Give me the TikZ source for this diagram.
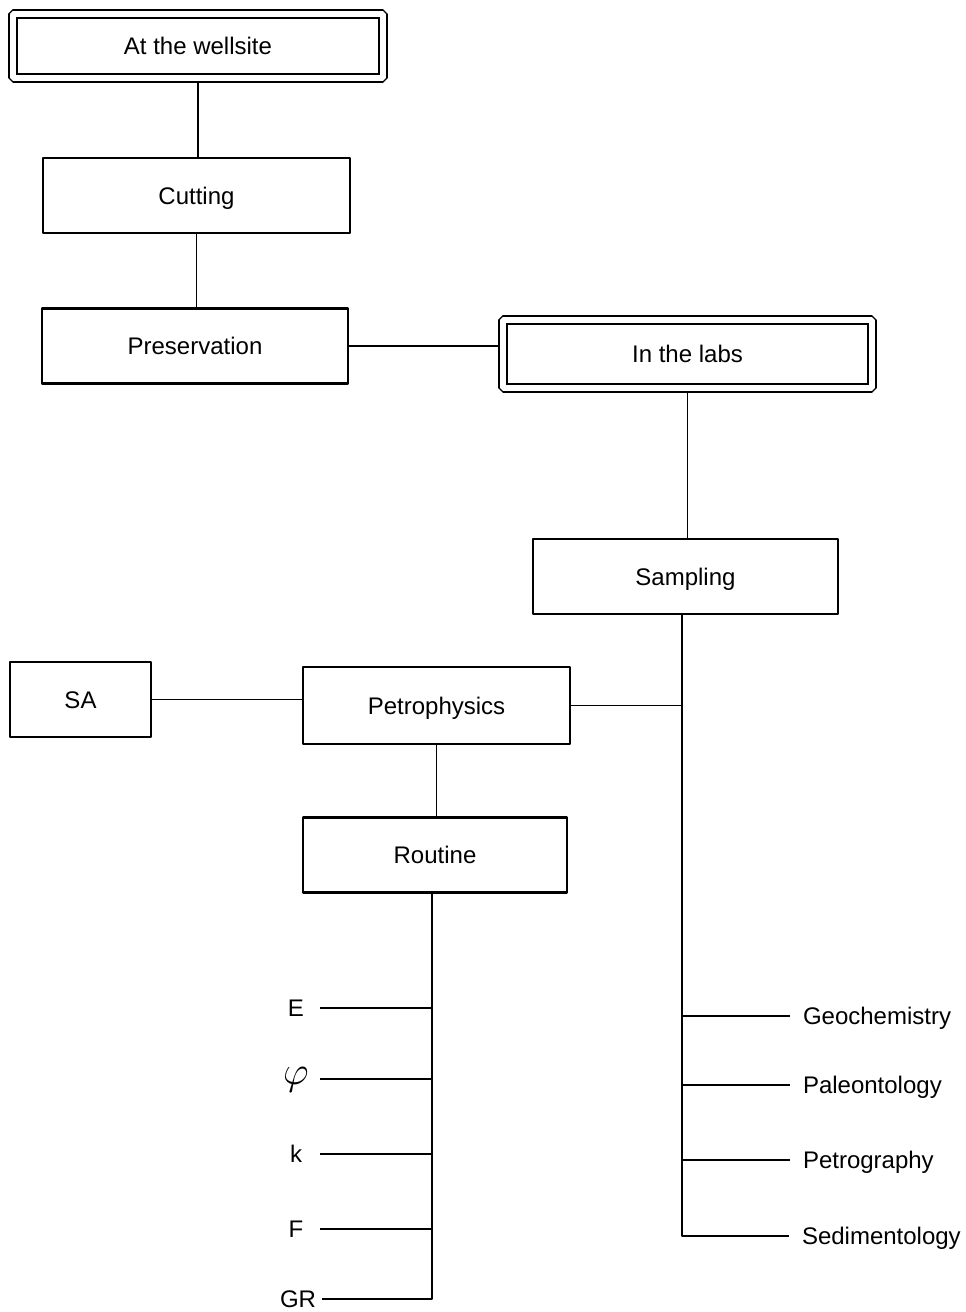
\documentclass[tikz,border=0pt]{standalone}
\usepackage{fontspec}
\usepackage{graphicx}
\setmainfont{Liberation Sans}
\usetikzlibrary{calc}

\tikzset{
  stage/.style={draw, line width=2.1pt, inner sep=0pt, text height=17pt, text depth=0pt,
    font=\fontsize{24}{27}\selectfont},
  mainstage/.style={stage, line width=1.8pt, double, double distance=5.5pt, outer sep=4.6pt},
  lleaf/.style={inner sep=0pt, minimum width=48pt, text height=17pt, text depth=0pt,
    font=\fontsize{24}{27}\selectfont},
  rleaf/.style={inner sep=0pt, outer xsep=13pt, anchor=west, text height=17pt, text depth=0pt,
    font=\fontsize{24}{27}\selectfont},
  link/.style={line width=1.8pt},
}

\begin{document}
\begin{tikzpicture}[x=1pt,y=-1pt,line join=bevel]
      \useasboundingbox (0,0) rectangle (966,1312);
      %%
      % Node: wellsite
      \node[mainstage, minimum width=370pt, minimum height=64pt] (wellsite) at (198,46) {At the wellsite};
      % Node: cutting
      \node[stage, minimum width=307pt, minimum height=75pt] (cutting) at (196.5,195.5) {Cutting};
      % Node: preservation
      \node[stage, minimum width=306pt, minimum height=75pt] (preservation) at (195,346) {Preservation};
      % Node: labs
      \node[mainstage, minimum width=369pt, minimum height=68pt] (labs) at (687.5,354) {In the labs};
      % Node: sampling
      \node[stage, minimum width=305pt, minimum height=75pt] (sampling) at (685.5,576.5) {Sampling};
      % Node: sa
      \node[stage, minimum width=141pt, minimum height=75pt] (sa) at (80.5,699.5) {SA};
      % Node: petro
      \node[stage, minimum width=267pt, minimum height=77pt] (petro) at (436.5,705.5) {Petrophysics};
      % Node: routine
      \node[stage, minimum width=264pt, minimum height=75pt] (routine) at (435,855) {Routine};
      %
      % Nodes: routine measurements
      \node[lleaf] (e)   at (296,1008) {E};
      \node[lleaf] (phi) at (296,1079) {\raisebox{3pt}{\scalebox{1.6}{$\varphi$}}};
      \node[lleaf] (k)   at (296,1154) {k};
      \node[lleaf] (f)   at (296,1229) {F};
      \node[lleaf] (gr)  at (298,1299) {GR};
      % Nodes: lab studies
      \node[rleaf] (geo)   at (790,1016) {Geochemistry};
      \node[rleaf] (paleo) at (790,1085) {Paleontology};
      \node[rleaf] (petrog) at (790,1160) {Petrography};
      \node[rleaf] (sedim) at (789,1236) {Sedimentology};
      %
      \coordinate (strunk) at (682,0);
      \coordinate (rtrunk) at (432,0);
      %
      % Edge: wellsite -> cutting
      \draw[link] (wellsite.south) -- (wellsite.south |- cutting.north);
      % Edge: cutting -> preservation
      \draw[link] (cutting.south) -- (cutting.south |- preservation.north);
      % Edge: preservation -> labs
      \draw[link] (preservation.east) -- (preservation.east -| labs.west);
      % Edge: labs -> sampling
      \draw[link] (labs.south) -- (labs.south |- sampling.north);
      % Edge: sampling -> lab studies
      \draw[link] (sampling.south -| strunk) -- (strunk |- sedim.west) -- (sedim.west);
      \foreach \n in {geo,paleo,petrog}
        \draw[link] (\n.west -| strunk) -- (\n.west);
      % Edge: petro -> sampling trunk
      \draw[link] (petro.east) -- (petro.east -| strunk);
      % Edge: sa -> petro
      \draw[link] (sa.east) -- (sa.east -| petro.west);
      % Edge: petro -> routine
      \draw[link] (petro.south) -- (petro.south |- routine.north);
      % Edge: routine -> measurements
      \draw[link] (routine.south -| rtrunk) -- (rtrunk |- gr.east) -- (gr.east);
      \foreach \n in {e,phi,k,f}
        \draw[link] (\n.east) -- (\n.east -| rtrunk);
      %
\end{tikzpicture}
\end{document}
